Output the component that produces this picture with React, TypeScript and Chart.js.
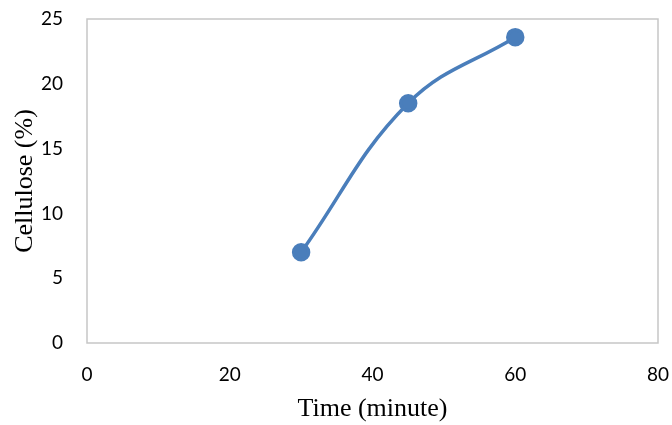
import React, { useEffect, useRef } from "react";
import { Chart, registerables } from "chart.js";

Chart.register(...registerables);

const timeMinutes = [30, 45, 60];
const cellulosePct = [7, 18.5, 23.6];
const xTicks = [0, 20, 40, 60, 80];
const yTicks = [0, 5, 10, 15, 20, 25];

const borderPlugin = {
  id: "plotBorder",
  beforeDatasetsDraw(chart: any) {
    const { ctx, chartArea } = chart;
    ctx.save();
    ctx.strokeStyle = "#C6C6C6";
    ctx.lineWidth = 1.5;
    ctx.strokeRect(chartArea.left, chartArea.top, chartArea.right - chartArea.left, chartArea.bottom - chartArea.top);
    ctx.restore();
  },
};

export default function App() {
  const ref = useRef<HTMLCanvasElement>(null);
  useEffect(() => {
    if (!ref.current) return;
    const chart = new Chart(ref.current, {
      type: "line",
      data: {
        datasets: [
          {
            data: timeMinutes.map((t, i) => ({ x: t, y: cellulosePct[i] })),
            borderColor: "#4A7EBB",
            backgroundColor: "#4A7EBB",
            borderWidth: 3.5,
            pointRadius: 7.5,
            pointHoverRadius: 7.5,
            tension: 0.4,
            fill: false,
          },
        ],
      },
      options: {
        animation: false,
        responsive: false,
        maintainAspectRatio: false,
        layout: { padding: { left: 10, top: 19, right: 14, bottom: 0 } },
        plugins: { legend: { display: false }, tooltip: { enabled: false } },
        scales: {
          x: {
            type: "linear",
            min: 0,
            max: 80,
            afterBuildTicks: (s: any) => {
              s.ticks = xTicks.map((v) => ({ value: v }));
            },
            afterFit: (s: any) => {
              s.height = 82;
              s.paddingLeft = 0;
              s.paddingRight = 0;
            },
            grid: { display: false, drawTicks: false },
            border: { display: false },
            ticks: {
              color: "#000",
              font: { family: "Lato", size: 19 },
              padding: 20,
              maxRotation: 0,
            },
            title: {
              display: true,
              text: "Time (minute)",
              color: "#000",
              font: { family: "Liberation Serif", size: 26 },
              padding: { top: 0, bottom: 0 },
            },
          },
          y: {
            type: "linear",
            min: 0,
            max: 25,
            afterBuildTicks: (s: any) => {
              s.ticks = yTicks.map((v) => ({ value: v }));
            },
            afterFit: (s: any) => {
              s.width = 77;
              s.paddingTop = 0;
              s.paddingBottom = 0;
            },
            grid: { display: false, drawTicks: false },
            border: { display: false },
            ticks: {
              color: "#000",
              font: { family: "Lato", size: 19 },
              padding: 24,
            },
            title: {
              display: true,
              text: "Cellulose (%)",
              color: "#000",
              font: { family: "Liberation Serif", size: 26 },
              padding: { top: 0, bottom: 0 },
            },
          },
        },
      },
      plugins: [borderPlugin],
    });
    return () => chart.destroy();
  }, []);
  return (
    <div style={{ position: "fixed", left: 0, top: 0, width: 672, height: 425, background: "#fff" }}>
      <canvas ref={ref} width={672} height={425} style={{ width: 672, height: 425, display: "block" }} />
    </div>
  );
}
